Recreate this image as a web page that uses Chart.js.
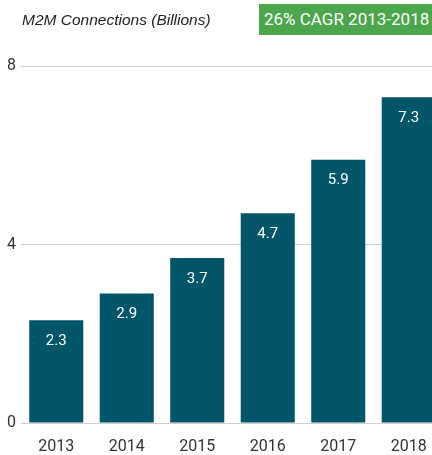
<!DOCTYPE html>
<html>
<head>
<meta charset="utf-8">
<script src="https://cdn.jsdelivr.net/npm/chart.js@4"></script>
<style>
  body { margin: 0; overflow: hidden; background: #fff; }
  #wrap { position: relative; width: 444px; height: 455px; }
  #title { position: absolute; left: 22px; top: 11px; font: italic 15.5px "Liberation Sans", Arial, sans-serif; color: #222; }
  #badge { position: absolute; left: 259px; top: 4px; width: 180px; height: 31px; background: #4ca64c; color: #fff;
           font: 17px Roboto, sans-serif; line-height: 31px; padding-left: 5px; box-sizing: border-box; }
</style>
</head>
<body>
<div id="wrap">
  <canvas id="chart"></canvas>
  <div id="title">M2M Connections (Billions)</div>
  <div id="badge">26% CAGR 2013-2018</div>
</div>
<script>
const years = ['2013', '2014', '2015', '2016', '2017', '2018'];
const connections = [2.3, 2.9, 3.7, 4.7, 5.9, 7.3];
const yTicks = [0, 4, 8];

const barLabels = {
  id: 'barLabels',
  afterDatasetsDraw(chart) {
    const ctx = chart.ctx;
    const meta = chart.getDatasetMeta(0);
    ctx.save();
    ctx.fillStyle = '#fff';
    ctx.font = '15px Roboto, sans-serif';
    ctx.textAlign = 'center';
    ctx.textBaseline = 'middle';
    meta.data.forEach((bar, i) => {
      ctx.fillText(connections[i].toFixed(1), bar.x, bar.y + 21);
    });
    ctx.restore();
  }
};

new Chart(document.getElementById('chart'), {
  type: 'bar',
  data: {
    labels: years,
    datasets: [{
      data: connections,
      backgroundColor: '#03566a',
      categoryPercentage: 1,
      barPercentage: 0.767
    }]
  },
  options: {
    responsive: true,
    maintainAspectRatio: false,
    animation: false,
    layout: { padding: { top: 66, right: 0, left: 0, bottom: 0 } },
    plugins: { legend: { display: false }, tooltip: { enabled: false } },
    scales: {
      x: {
        afterFit(scale) { scale.height = 32; },
        grid: { display: false },
        border: { display: false },
        ticks: { color: '#333', font: { family: 'Roboto', size: 16 }, padding: 6 }
      },
      y: {
        min: 0,
        max: 8,
        afterBuildTicks(scale) { scale.ticks = yTicks.map(v => ({ value: v })); },
        afterFit(scale) { scale.width = 21; },
        grid: { color: '#cfcfcf', drawTicks: false },
        border: { display: false },
        ticks: { color: '#333', font: { family: 'Roboto', size: 16 }, padding: 5 }
      }
    }
  },
  plugins: [barLabels]
});
</script>
</body>
</html>
